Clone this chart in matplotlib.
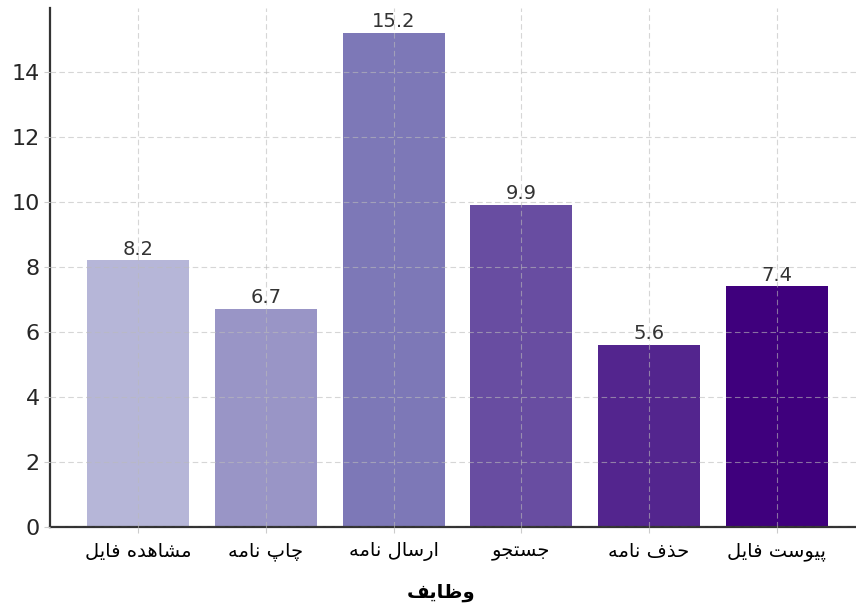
import numpy as np
import matplotlib
matplotlib.use('Agg')
import matplotlib.pyplot as plt

# data
labels = ['مشاهده فایل', 'چاپ نامه', 'ارسال نامه', 'جستجو', 'حذف نامه', 'پیوست فایل']
values = [8.2, 6.7, 15.2, 9.9, 5.6, 7.4]
xlabel = 'وظایف'

# matplotlib has no arabic shaping, so map letters to presentation forms by hand
# (isolated, final, initial, medial); None -> letter does not join to the left
FORMS = {
    'ا': ('\uFE8D', '\uFE8E', None, None),
    'پ': ('\uFB56', '\uFB57', '\uFB58', '\uFB59'),
    'ت': ('\uFE95', '\uFE96', '\uFE97', '\uFE98'),
    'ج': ('\uFE9D', '\uFE9E', '\uFE9F', '\uFEA0'),
    'چ': ('\uFB7A', '\uFB7B', '\uFB7C', '\uFB7D'),
    'ح': ('\uFEA1', '\uFEA2', '\uFEA3', '\uFEA4'),
    'د': ('\uFEA9', '\uFEAA', None, None),
    'ذ': ('\uFEAB', '\uFEAC', None, None),
    'ر': ('\uFEAD', '\uFEAE', None, None),
    'س': ('\uFEB1', '\uFEB2', '\uFEB3', '\uFEB4'),
    'ش': ('\uFEB5', '\uFEB6', '\uFEB7', '\uFEB8'),
    'ظ': ('\uFEC5', '\uFEC6', '\uFEC7', '\uFEC8'),
    'ف': ('\uFED1', '\uFED2', '\uFED3', '\uFED4'),
    'ل': ('\uFEDD', '\uFEDE', '\uFEDF', '\uFEE0'),
    'م': ('\uFEE1', '\uFEE2', '\uFEE3', '\uFEE4'),
    'ن': ('\uFEE5', '\uFEE6', '\uFEE7', '\uFEE8'),
    'ه': ('\uFEE9', '\uFEEA', '\uFEEB', '\uFEEC'),
    'و': ('\uFEED', '\uFEEE', None, None),
    'ی': ('\uFBFC', '\uFBFD', '\uFBFE', '\uFBFF'),
}


def dual(c):
    return c in FORMS and FORMS[c][2] is not None


def shape(text):
    out = []
    for i, c in enumerate(text):
        if c not in FORMS:
            out.append(c)
            continue
        prev = text[i - 1] if i > 0 else ' '
        nxt = text[i + 1] if i + 1 < len(text) else ' '
        jp = dual(prev)
        jn = dual(c) and nxt in FORMS
        if jp and jn:
            f = FORMS[c][3]
        elif jp:
            f = FORMS[c][1]
        elif jn:
            f = FORMS[c][2]
        else:
            f = FORMS[c][0]
        out.append(f)
    return ''.join(out)[::-1]


colors = plt.cm.Purples(np.linspace(0.4, 1.0, len(values)))

fig = plt.figure(figsize=(8.56, 6.07), dpi=100)
ax = fig.add_axes([50 / 856, 80 / 607, 815 / 856, 519 / 607])

x = np.arange(len(values))
bars = ax.bar(x, values, width=0.8, color=colors)

for b, v in zip(bars, values):
    ax.text(b.get_x() + b.get_width() / 2, v + 0.05, f'{v}', ha='center', va='bottom',
            fontsize=14, color='#333333')

ax.set_xticks(x)
ax.set_xticklabels([shape(l) for l in labels], fontsize=14, color='black')
ax.set_xlabel(shape(xlabel), fontsize=14, fontweight='bold')
ax.xaxis.set_label_coords((441 - 50) / 815, -0.107)

ax.set_ylim(0, 15.96)
ax.set_yticks(range(0, 15, 2))
ax.tick_params(axis='y', labelsize=16, labelcolor='#262626', color='#cccccc', length=4)
ax.tick_params(axis='x', color='#cccccc', length=4, pad=7)

ax.grid(True, linestyle=(0, (5, 3)), color='#bbbbbb', linewidth=0.8, alpha=0.6)
ax.set_axisbelow(False)

for s in ['top', 'right']:
    ax.spines[s].set_visible(False)
for s in ['left', 'bottom']:
    ax.spines[s].set_color('#333333')
    ax.spines[s].set_linewidth(1.6)

fig.savefig('out.png', dpi=100)
